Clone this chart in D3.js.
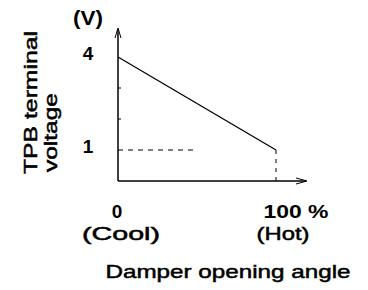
<!DOCTYPE html>
<html>
<head>
<meta charset="utf-8">
<script src="https://cdn.jsdelivr.net/npm/d3@7"></script>
<style>
  body { margin: 0; background: #fff; }
  text { font-family: "Liberation Sans", Arial, sans-serif; fill: #000; }
  .word { stroke: #000; stroke-width: 0.5; }
</style>
</head>
<body>
<div id="chart"></div>
<script>
// data
const xDomain = [0, 100]
const yDomain = [0, 4]
const linePoints = [[0, 4], [100, 1]]
const yTicks = [2, 3]
const yLabels = [4, 1]
const xLabels = [
  {v: 0, top: "0", bottom: "(Cool)"},
  {v: 100, top: "100 %", bottom: "(Hot)"}
]

const width = 368, height = 290
const svg = d3.select("#chart").append("svg").attr("width", width).attr("height", height)

const x = d3.scaleLinear().domain(xDomain).range([118, 276])
const y = d3.scaleLinear().domain(yDomain).range([181, 57])

const g = svg.append("g").attr("stroke", "#000").attr("fill", "none")

// axes with arrows
g.append("line").attr("x1", x(0)).attr("x2", x(0)).attr("y1", y(0)).attr("y2", 30).attr("stroke-width", 1.5)
g.append("path").attr("d", `M${x(0)-3},38 L${x(0)},28 L${x(0)+3},38`).attr("stroke-width", 1)
g.append("line").attr("x1", x(0)).attr("x2", 306).attr("y1", y(0)).attr("y2", y(0)).attr("stroke-width", 1.5)
g.append("path").attr("d", `M296,${y(0)-3} L307,${y(0)} L296,${y(0)+3}`).attr("stroke-width", 1)

// small ticks on y axis
g.selectAll(".yt").data(yTicks).join("line")
  .attr("x1", x(0)).attr("x2", x(0) + 3)
  .attr("y1", d => y(d)).attr("y2", d => y(d))

// the line
g.append("path").datum(linePoints)
  .attr("d", d3.line(d => x(d[0]), d => y(d[1])))
  .attr("stroke-width", 1.3)

// dashed guides
g.append("line").attr("x1", x(0)).attr("x2", x(48)).attr("y1", y(1)).attr("y2", y(1))
  .attr("stroke-dasharray", "5,5").attr("stroke-width", 1.2)
g.append("line").attr("x1", x(100)).attr("x2", x(100)).attr("y1", y(1)).attr("y2", y(0))
  .attr("stroke-dasharray", "4,5").attr("stroke-width", 1)

// y labels
svg.selectAll(".yl").data(yLabels).join("text")
  .attr("x", 88).attr("y", d => y(d) + 3)
  .attr("text-anchor", "middle").attr("font-size", 19).attr("font-weight", "bold")
  .text(d => d)
svg.append("text").attr("x", 88).attr("y", 25)
  .attr("text-anchor", "middle").attr("font-size", 20).attr("font-weight", "bold")
  .attr("textLength", 30).attr("lengthAdjust", "spacingAndGlyphs")
  .text("(V)")

// x labels
const topX = [117, 296]
const botX = [121, 283], botW = [78, 53]
svg.selectAll(".xl").data(xLabels).join("text")
  .attr("x", (d, i) => topX[i]).attr("y", 218)
  .attr("text-anchor", "middle").attr("font-size", 19).attr("font-weight", "bold")
  .attr("textLength", (d, i) => i ? 65 : null).attr("lengthAdjust", "spacingAndGlyphs")
  .text(d => d.top)
svg.selectAll(".xb").data(xLabels).join("text")
  .attr("class", "word")
  .attr("x", (d, i) => botX[i]).attr("y", 240)
  .attr("text-anchor", "middle").attr("font-size", 19)
  .attr("textLength", (d, i) => botW[i]).attr("lengthAdjust", "spacingAndGlyphs")
  .text(d => d.bottom)

svg.append("text").attr("class", "word").attr("x", 228).attr("y", 278)
  .attr("text-anchor", "middle").attr("font-size", 19)
  .attr("textLength", 245).attr("lengthAdjust", "spacingAndGlyphs")
  .text("Damper opening angle")

// y title
const yt = svg.append("g").attr("transform", "translate(37,174) rotate(-90)")
yt.append("text").attr("class", "word").attr("x", 0).attr("y", 0)
  .attr("font-size", 19).attr("textLength", 143).attr("lengthAdjust", "spacingAndGlyphs")
  .text("TPB terminal")
yt.append("text").attr("class", "word").attr("x", 2).attr("y", 20)
  .attr("font-size", 19).attr("textLength", 79).attr("lengthAdjust", "spacingAndGlyphs")
  .text("voltage")
</script>
</body>
</html>
